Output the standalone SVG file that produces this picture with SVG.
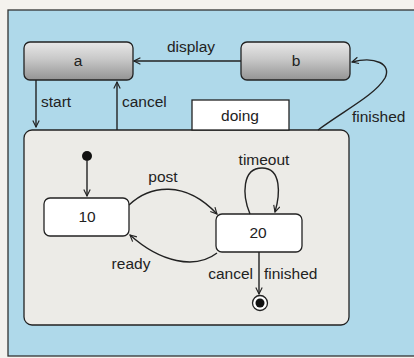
<svg xmlns="http://www.w3.org/2000/svg" width="414" height="358" viewBox="0 0 414 358">
<defs>
<linearGradient id="g" x1="0" y1="0" x2="0" y2="1">
<stop offset="0" stop-color="#e8e8e8"/>
<stop offset="0.45" stop-color="#c8c8c8"/>
<stop offset="1" stop-color="#949494"/>
</linearGradient>
<marker id="arr" viewBox="0 0 10 10" refX="9" refY="5" markerWidth="8" markerHeight="8" orient="auto" markerUnits="userSpaceOnUse">
<path d="M1,1 L9,5 L1,9" fill="none" stroke="#222" stroke-width="1.4"/>
</marker>
<style>
text{font-family:"Liberation Sans",Arial,sans-serif;font-size:15.5px;fill:#222;}
.c{text-anchor:middle;}
.e{stroke:#222;stroke-width:1.4;fill:none;marker-end:url(#arr);}
.st{stroke:#222;stroke-width:1.3;}
</style>
</defs>
<rect x="0" y="0" width="414" height="358" fill="#f4f2ee"/>
<rect x="8" y="10" width="410" height="346" fill="#afd9ea" stroke="#333" stroke-width="1.3"/>
<g id="doing">
<rect x="24" y="130" width="325" height="195" rx="8" fill="#ecebe7" class="st"/>
<rect x="192" y="100" width="97" height="30" fill="#fff" class="st"/>
<text x="240" y="121" class="c">doing</text>
</g>
<g id="a">
<rect x="24" y="42" width="109" height="38" rx="6" fill="url(#g)" class="st"/>
<text x="78" y="66" class="c">a</text>
</g>
<g id="b">
<rect x="241" y="42" width="109" height="38" rx="6" fill="url(#g)" class="st"/>
<text x="296" y="66" class="c">b</text>
</g>
<g id="initial">
<circle cx="87" cy="156" r="5" fill="#111"/>
</g>
<g id="s10">
<rect x="44" y="198" width="85" height="38" rx="6" fill="#fff" class="st"/>
<text x="87" y="222" class="c">10</text>
</g>
<g id="s20">
<rect x="216" y="214" width="86" height="38" rx="6" fill="#fff" class="st"/>
<text x="258" y="238" class="c">20</text>
</g>
<g id="final">
<circle cx="260" cy="303" r="7.5" fill="#fff" stroke="#222" stroke-width="1.3"/>
<circle cx="260" cy="303" r="4.5" fill="#111"/>
</g>
<g id="connectors">
<path class="e" d="M241,61 L134,61"/>
<text x="191" y="52" class="c">display</text>
<path class="e" d="M36,80 L36,127"/>
<text x="41" y="107">start</text>
<path class="e" d="M117,130 L117,82"/>
<text x="122" y="107">cancel</text>
<path class="e" d="M318,130 C345,110 375,95 385,78 C392,64 375,56 352,62"/>
<text x="352" y="122">finished</text>
<path class="e" d="M87,161 L87,196"/>
<path class="e" d="M129,205 C150,185 185,180 217,214"/>
<text x="163" y="182" class="c">post</text>
<path class="e" d="M217,253 C195,270 160,262 130,235"/>
<text x="131" y="269" class="c">ready</text>
<path class="e" d="M250,214 C242,195 242,168 262,168 C282,168 280,195 275,212"/>
<text x="264" y="165" class="c">timeout</text>
<path class="e" d="M259,252 L259,294"/>
<text x="253" y="279" text-anchor="end">cancel</text>
<text x="264" y="279">finished</text>
</g>
</svg>
